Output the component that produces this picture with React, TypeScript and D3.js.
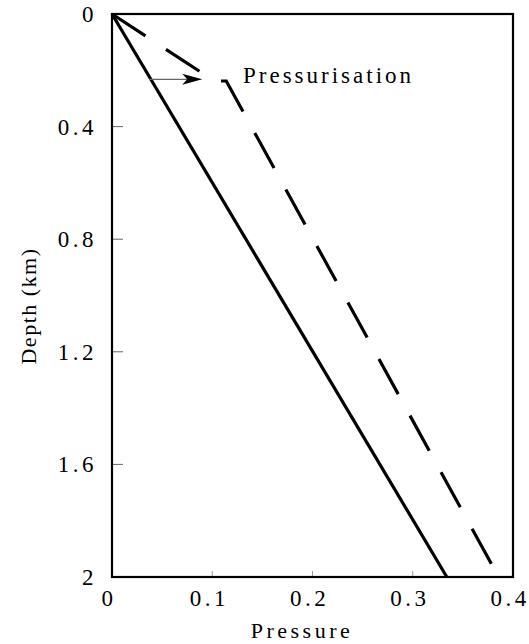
import React from "react";
import * as d3 from "d3";

// Axis ticks
const pressureTicks = [0, 0.1, 0.2, 0.3, 0.4];
const depthTicks = [0, 0.4, 0.8, 1.2, 1.6, 2];

// Hydrostatic profile (solid)
const hydroPressure = [0, 0.334];
const hydroDepth = [0, 2];

// Pressurised profile (dashed)
const pressurisedPressure = [0, 0.102, 0.114, 0.379];
const pressurisedDepth = [0, 0.238, 0.238, 1.957];

// Annotation arrow
const arrowPressure = [0.037, 0.09];
const arrowDepth = 0.232;
const annotationText = "Pressurisation";

const W = 529;
const H = 644;
const FONT = '"Liberation Serif", "Times New Roman", "DejaVu Serif", serif';
const textStyle = { fontFamily: FONT };

export default function App() {
  const x = d3.scaleLinear().domain([0, 0.4]).range([112, 513]);
  const y = d3.scaleLinear().domain([0, 2]).range([14, 577]);

  const line = d3
    .line<[number, number]>()
    .x((d) => x(d[0]))
    .y((d) => y(d[1]));

  const hydro = hydroPressure.map((p, i) => [p, hydroDepth[i]] as [number, number]);
  const press = pressurisedPressure.map((p, i) => [p, pressurisedDepth[i]] as [number, number]);

  const ax0 = x(arrowPressure[0]);
  const ax1 = x(arrowPressure[1]);
  const ay = y(arrowDepth);

  const [x0, x1] = x.range();
  const [y0, y1] = y.range();

  return (
    <svg
      width={W}
      height={H}
      style={{ position: "absolute", left: 0, top: 0, background: "#fff" }}
    >
      <rect x={0} y={0} width={W} height={H} fill="#fff" />

      {/* inward ticks */}
      {depthTicks.slice(1, -1).map((t) => (
        <line key={"yt" + t} x1={x0} x2={x0 + 11} y1={y(t)} y2={y(t)} stroke="#666" strokeWidth={1} />
      ))}
      {pressureTicks.slice(1, -1).map((t) => (
        <line key={"xt" + t} x1={x(t)} x2={x(t)} y1={y1} y2={y1 - 6} stroke="#999" strokeWidth={1} />
      ))}

      {/* data lines */}
      <path d={line(hydro) || ""} fill="none" stroke="#000" strokeWidth={3.2} />
      <path
        d={line(press) || ""}
        fill="none"
        stroke="#000"
        strokeWidth={3.2}
        strokeDasharray="40 24.5"
      />

      {/* annotation arrow */}
      <line x1={ax0} x2={ax1 - 14} y1={ay} y2={ay} stroke="#666" strokeWidth={1.2} />
      <path d={`M${ax1},${ay} L${ax1 - 20},${ay - 5.5} L${ax1 - 15},${ay} L${ax1 - 20},${ay + 5.5} Z`} fill="#000" />
      <text x={243} y={ay + 4} fontSize={23} letterSpacing={3} fill="#000" style={textStyle}>
        {annotationText}
      </text>

      {/* frame */}
      <rect x={x0} y={y0} width={x1 - x0} height={y1 - y0} fill="none" stroke="#000" strokeWidth={2.2} />

      {/* y tick labels */}
      {depthTicks.map((t) => (
        <text
          key={"yl" + t}
          x={97}
          y={y(t)}
          dy="0.35em"
          textAnchor="end"
          fontSize={23}
          letterSpacing={3.5}
          fill="#000"
          style={textStyle}
        >
          {String(t)}
        </text>
      ))}

      {/* x tick labels */}
      {pressureTicks.map((t) => (
        <text
          key={"xl" + t}
          x={x(t) - 3}
          y={606}
          textAnchor="middle"
          fontSize={23}
          letterSpacing={3.5}
          fill="#000"
          style={textStyle}
        >
          {String(t)}
        </text>
      ))}

      {/* axis titles */}
      <text x={302} y={638} textAnchor="middle" fontSize={22} letterSpacing={3.5} fill="#000" style={textStyle}>
        Pressure
      </text>
      <text
        transform={`translate(36, 306) rotate(-90)`}
        textAnchor="middle"
        fontSize={22}
        letterSpacing={1.5}
        fill="#000"
        style={textStyle}
      >
        Depth  (km)
      </text>
    </svg>
  );
}
